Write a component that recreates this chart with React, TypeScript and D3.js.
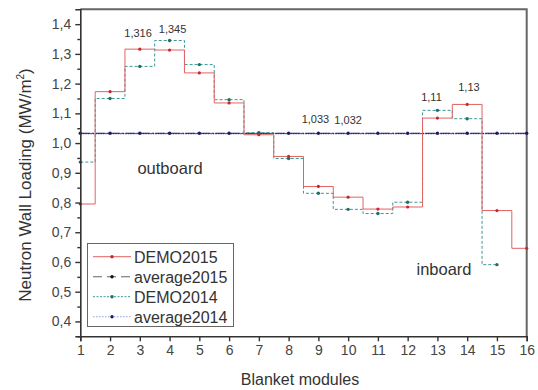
import { useEffect, useRef } from "react";
import * as d3 from "d3";

const modules = [1, 2, 3, 4, 5, 6, 7, 8, 9, 10, 11, 12, 13, 14, 15, 16];
const demo2015 = [0.795, 1.173, 1.316, 1.313, 1.236, 1.135, 1.028, 0.955, 0.854, 0.818, 0.778, 0.785, 1.084, 1.13, 0.773, 0.646];
const demo2014 = [0.936, 1.15, 1.258, 1.345, 1.264, 1.146, 1.035, 0.948, 0.831, 0.777, 0.763, 0.801, 1.11, 1.082, 0.591];
const avg2015 = 1.033;
const avg2014 = 1.032;
const yTicks = [0.4, 0.5, 0.6, 0.7, 0.8, 0.9, 1.0, 1.1, 1.2, 1.3, 1.4];

// value labels: [module, value, text, dx, dy]
const annotations: [number, number, string, number, number][] = [
  [3, 1.316, "1,316", -0.06, -12],
  [4, 1.345, "1,345", 0.1, -8],
  [9, avg2015, "1,033", -0.1, -10],
  [10, avg2014, "1,032", 0, -10],
  [13, 1.11, "1,11", -0.2, -9],
  [14, 1.13, "1,13", 0.06, -13],
];

const RED = "#e26262";
const RED_DOT = "#c8282c";
const TEAL = "#3a9a96";
const TEAL_DOT = "#1e6e6a";
const NAVY = "#1c1c66";
const BLUE = "#3a3aa8";

export default function App() {
  const svgRef = useRef<SVGSVGElement>(null);

  useEffect(() => {
    if (!svgRef.current) return;
    const svg = d3.select(svgRef.current);
    svg.selectAll("*").remove();
    const font = "Liberation Sans, Arial, sans-serif";

    const x = d3.scaleLinear().domain([1, 16]).range([80.3, 526.7]);
    const y = d3.scaleLinear().domain([0.35, 1.45]).range([336.3, 9.3]);

    const g = svg.append("g");

    // frame (top / right)
    g.append("path")
      .attr("d", `M${x(1)},${y(1.45)}H${x(16)}V${y(0.35)}`)
      .attr("fill", "none")
      .attr("stroke", "#666")
      .attr("stroke-width", 2);

    // average lines
    const avgLine = (v: number) =>
      d3.line<number>().x((d) => x(d)).y(() => y(v))(modules) as string;

    g.append("path")
      .attr("d", avgLine(avg2014))
      .attr("fill", "none")
      .attr("stroke", BLUE)
      .attr("stroke-width", 1.2)
      .attr("stroke-dasharray", "1.5,1");
    g.append("path")
      .attr("d", avgLine(avg2015))
      .attr("fill", "none")
      .attr("stroke", NAVY)
      .attr("stroke-width", 1.2)
      .attr("stroke-dasharray", "10,1.5,2,1.5");
    g.selectAll(".avgdot")
      .data(modules)
      .join("circle")
      .attr("cx", (d) => x(d))
      .attr("cy", y(avg2015))
      .attr("r", 1.7)
      .attr("fill", NAVY);

    // step lines
    const step = d3
      .line<number>()
      .x((_, i) => x(modules[i]))
      .y((d) => y(d))
      .curve(d3.curveStep);

    g.append("path")
      .attr("d", step(demo2014) as string)
      .attr("fill", "none")
      .attr("stroke", TEAL)
      .attr("stroke-width", 1)
      .attr("stroke-dasharray", "3,2");
    g.append("path")
      .attr("d", step(demo2015) as string)
      .attr("fill", "none")
      .attr("stroke", RED)
      .attr("stroke-width", 1);

    g.selectAll(".d14")
      .data(demo2014)
      .join("circle")
      .attr("cx", (_, i) => x(modules[i]))
      .attr("cy", (d) => y(d))
      .attr("r", 1.7)
      .attr("fill", TEAL_DOT);
    g.selectAll(".d15")
      .data(demo2015)
      .join("circle")
      .attr("cx", (_, i) => x(modules[i]))
      .attr("cy", (d) => y(d))
      .attr("r", 1.6)
      .attr("fill", RED_DOT);

    // annotations
    g.selectAll(".ann")
      .data(annotations)
      .join("text")
      .attr("x", (d) => x(d[0] + d[3]))
      .attr("y", (d) => y(d[1]) + d[4])
      .attr("text-anchor", "middle")
      .attr("font-family", font)
      .attr("font-size", 11)
      .attr("fill", "#333")
      .text((d) => d[2]);

    g.append("text")
      .attr("x", 170)
      .attr("y", 174)
      .attr("text-anchor", "middle")
      .attr("font-family", font)
      .attr("font-size", 16.5)
      .attr("fill", "#333")
      .text("outboard");
    g.append("text")
      .attr("x", 444)
      .attr("y", 275)
      .attr("text-anchor", "middle")
      .attr("font-family", font)
      .attr("font-size", 16.5)
      .attr("fill", "#333")
      .text("inboard");

    // axes
    const xAxis = g
      .append("g")
      .attr("transform", `translate(0,${y(0.35)})`)
      .call(d3.axisBottom(x).tickValues(modules).tickFormat(d3.format("d")).tickSize(5).tickPadding(4));
    const yAxis = g
      .append("g")
      .attr("transform", `translate(${x(1)},0)`)
      .call(
        d3
          .axisLeft(y)
          .tickValues(yTicks)
          .tickFormat((d) => d3.format(".1f")(d as number).replace(".", ","))
          .tickSize(5)
          .tickPadding(4)
      );
    // minor y ticks
    g.append("g")
      .attr("transform", `translate(${x(1)},0)`)
      .call(d3.axisLeft(y).tickValues(yTicks.map((t) => t - 0.05)).tickSize(3).tickFormat(() => ""))
      .select(".domain")
      .remove();

    [xAxis, yAxis].forEach((ax) => {
      ax.select(".domain").attr("stroke", "#333").attr("stroke-width", 1.6);
      ax.selectAll("text")
        .attr("font-family", font)
        .attr("font-size", 14)
        .attr("fill", "#444");
    });
    g.selectAll(".tick line").attr("stroke", "#333").attr("stroke-width", 1.4);

    // axis titles
    g.append("text")
      .attr("x", 300)
      .attr("y", 385)
      .attr("text-anchor", "middle")
      .attr("font-family", font)
      .attr("font-size", 16)
      .attr("fill", "#333")
      .text("Blanket modules");
    const yt = g
      .append("text")
      .attr("transform", "translate(31,185) rotate(-90)")
      .attr("text-anchor", "middle")
      .attr("font-family", font)
      .attr("font-size", 17)
      .attr("fill", "#333");
    yt.append("tspan").text("Neutron Wall Loading (MW/m");
    yt.append("tspan").attr("font-size", 10).attr("dy", -7).text("2");
    yt.append("tspan").attr("dy", 7).text(")");

    // legend
    const legend = g.append("g");
    legend
      .append("rect")
      .attr("x", 87.5)
      .attr("y", 243.5)
      .attr("width", 146)
      .attr("height", 83)
      .attr("fill", "#fff")
      .attr("stroke", "#666")
      .attr("stroke-width", 1);
    const items = [
      { label: "DEMO2015", color: RED, dot: RED_DOT, dash: null, w: 1 },
      { label: "average2015", color: "#666", dot: "#111", dash: "9,5", w: 1.1 },
      { label: "DEMO2014", color: TEAL, dot: TEAL_DOT, dash: "2,1.5", w: 1 },
      { label: "average2014", color: "#9aa0d8", dot: NAVY, dash: "1.5,1.5", w: 1 },
    ];
    const rows = legend
      .selectAll(".row")
      .data(items)
      .join("g")
      .attr("transform", (_, i) => `translate(0,${256.7 + i * 20})`);
    rows
      .append("line")
      .attr("x1", 93)
      .attr("x2", 131)
      .attr("stroke", (d) => d.color)
      .attr("stroke-width", (d) => d.w)
      .attr("stroke-dasharray", (d) => d.dash);
    rows
      .append("circle")
      .attr("cx", 112)
      .attr("r", 1.7)
      .attr("fill", (d) => d.dot);
    rows
      .append("text")
      .attr("x", 134)
      .attr("y", 5.8)
      .attr("font-family", font)
      .attr("font-size", 16)
      .attr("fill", "#333")
      .text((d) => d.label);
  }, []);

  return (
    <svg
      ref={svgRef}
      width={538}
      height={390}
      style={{ position: "absolute", left: 0, top: 0, background: "#fff" }}
    />
  );
}
